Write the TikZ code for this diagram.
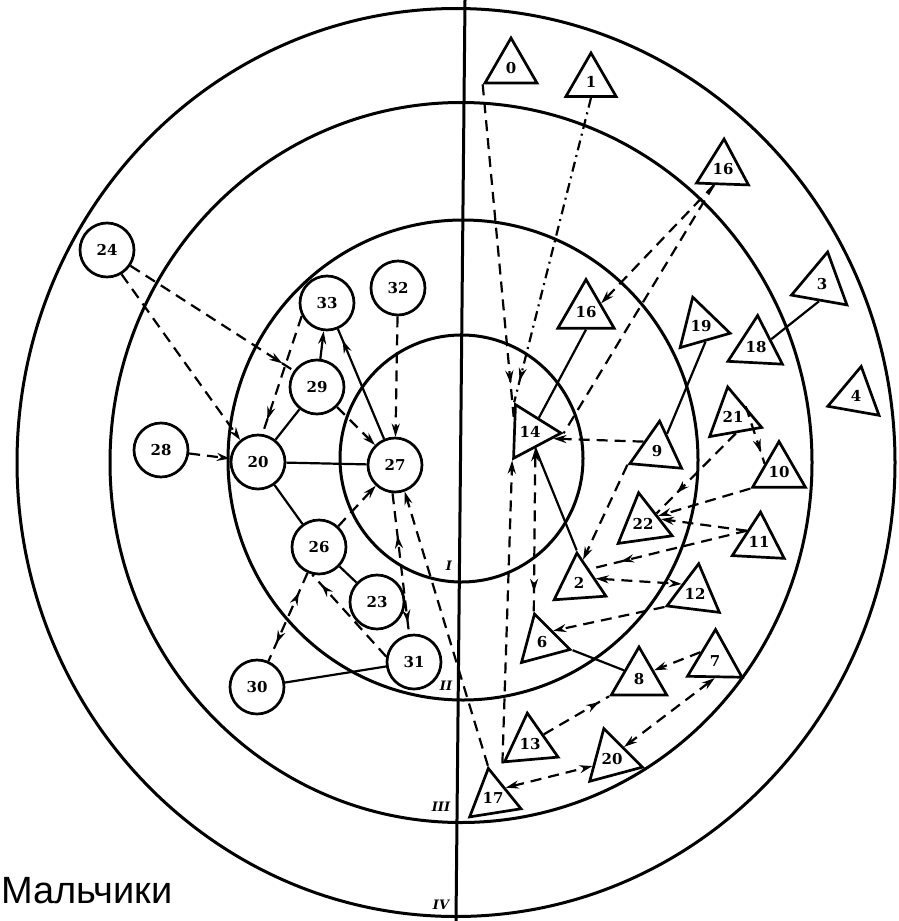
\documentclass[tikz,border=0pt]{standalone}
\usepackage{fontspec}
\setmainfont{DejaVu Serif}
\newfontfamily\capfont{Liberation Sans}
\usetikzlibrary{shapes.geometric, arrows.meta, decorations.markings, calc}
\begin{document}
\begin{tikzpicture}[x=1pt, y=-1pt,
  >={Stealth[length=13pt,width=8pt]},
  ring/.style={line width=3pt},
  lbl/.style={font=\bfseries\fontsize{15}{15}\selectfont},
  cn/.style={circle, draw, line width=2.7pt, minimum size=54pt, inner sep=0pt, lbl},
  tn/.style={regular polygon, regular polygon sides=3, draw, line width=2.7pt, minimum size=#1, inner sep=0pt, lbl},
  tn/.default=60pt,
  rn/.style={font=\bfseries\itshape\fontsize{13}{13}\selectfont, inner sep=0pt},
  sl/.style={line width=2.2pt},
  ds/.style={line width=2.2pt, dash pattern=on 11pt off 7pt},
  dd/.style={line width=2.2pt, dash pattern=on 10pt off 5pt on 2pt off 5pt},
  ar/.style={postaction={decorate, decoration={markings, mark=at position #1 with {\arrow{>}}}}},
  ra/.style={postaction={decorate, decoration={markings, mark=at position #1 with {\arrowreversed{>}}}}}
]
\useasboundingbox (0,0) rectangle (898,921);

% rings and axis
\draw[ring] (456,462.5) ellipse [x radius=439pt, y radius=454pt];
\draw[ring] (461,462.5) ellipse [x radius=351pt, y radius=360pt];
\draw[ring] (463,460) ellipse [x radius=235pt, y radius=240pt];
\draw[ring] (461.5,458.5) ellipse [x radius=121.5pt, y radius=123.5pt];
\draw[ring] (465,0) -- (456,921);

\node[rn] (rI) at (449,566) {I};
\node[rn] (rII) at (446,686) {II};
\node[rn] (rIII) at (441,807) {III};
\node[rn] (rIV) at (441,905) {IV};

% circles
\node[cn] (c24) at (107,250) {24};
\node[cn] (c33) at (327,303) {33};
\node[cn] (c32) at (398,288) {32};
\node[cn] (c29) at (317,387) {29};
\node[cn] (c28) at (161,450) {28};
\node[cn] (c20) at (258,462) {20};
\node[cn] (c27) at (395,465) {27};
\node[cn] (c26) at (319,547) {26};
\node[cn] (c23) at (377,602) {23};
\node[cn] (c31) at (414,662) {31};
\node[cn] (c30) at (257,687) {30};

% triangles
\node[tn=60pt] (t0) at (511,68) {0};
\node[tn=58pt] (t1) at (591,82) {1};
\node[tn=60pt, regular polygon rotate=-2] (t16a) at (723,169) {16};
\node[tn=65pt] (t16) at (586,312) {16};
\node[tn=60pt, regular polygon rotate=16] (t19) at (701,326) {19};
\node[tn=65pt, regular polygon rotate=-10] (t3) at (822,284) {3};
\node[tn=63pt, regular polygon rotate=-3] (t18) at (756,347) {18};
\node[tn=60pt, regular polygon rotate=-10] (t4) at (856,396) {4};
\node[tn=61pt, regular polygon rotate=10] (t21) at (733,417) {21};
\node[tn=62pt, regular polygon rotate=28] (t14) at (530,432) {14};
\node[tn=60pt, regular polygon rotate=-5] (t9) at (657,451) {9};
\node[tn=63pt, regular polygon rotate=8] (t22) at (643,524) {22};
\node[tn=61pt] (t10) at (779,472) {10};
\node[tn=60pt, regular polygon rotate=-3] (t11) at (759,542) {11};
\node[tn=60pt, regular polygon rotate=4] (t2) at (579,583) {2};
\node[tn=61pt, regular polygon rotate=-7] (t12) at (695,594) {12};
\node[tn=58pt, regular polygon rotate=15] (t6) at (542,642) {6};
\node[tn=64pt] (t8) at (639,679) {8};
\node[tn=63pt, regular polygon rotate=-1] (t7) at (715,661) {7};
\node[tn=62pt, regular polygon rotate=5] (t13) at (530,744) {13};
\node[tn=63pt, regular polygon rotate=15] (t20) at (612,759) {20};
\node[tn=60pt, regular polygon rotate=9] (t17) at (493,798) {17};

% caption
\node[anchor=base west, inner sep=0pt, font=\capfont\fontsize{38}{38}\selectfont] (cap) at (1,903) {Мальчики};

% helper points
\coordinate (s16) at ($(t16a.corner 2)!0.35!(t16a.corner 3)$);
\coordinate (b14) at ($(t14.corner 2)!0.45!(t14.corner 3)$);
\coordinate (s11) at ($(t11.corner 1)!0.45!(t11.corner 2)$);

% left side connectors
\draw[ds, ar=0.93] (c24.-34) -- (c29.145);
\draw[ds, ->] (c24.-59) -- (c20.129);
\draw[ds, ar=0.88] (c33.207) -- (c20.81);
\draw[sl, ->] (c29) -- (c33);
\draw[sl, ar=0.9] (c27) -- (c33);
\draw[ds, ->] (c32) -- (c27);
\draw[ds, ->] (c29) -- (c27);
\draw[ds, ->] (c28) -- (c20);
\draw[sl] (c20) -- (c29);
\draw[sl] (c20) -- (c27);
\draw[sl] (c20) -- (c26);
\draw[ds, ->] (c26) -- (c27);
\draw[sl] (c26) -- (c23);
\draw[ds, ra=0.22, ar=0.8] (c26) -- (c30);
\draw[ds, ar=0.88] (c31.169) -- (c26.-104);
\draw[sl] (c30) -- (c31);
\draw[ds, ra=0.3, ar=0.92] (c27.-95) -- (c31.100);
\draw[ds, ->] (t17.corner 1) -- (c27.-70);

% right side connectors
\draw[ds, ar=0.9] (t0.corner 2) -- ($(t14.corner 1)!0.25!(t14.corner 2)$);
\draw[dd, ar=0.93] (t1.side 2) -- (t14.corner 1);
\draw[ds, ->] (s16) -- (t16.side 3);
\draw[ds] (s16) -- (t14.corner 3);
\draw[sl] (t16.side 2) -- (t14.side 3);
\draw[sl] (t3.side 2) -- (t18.side 3);
\draw[sl] (t19.side 2) -- ($(t9.corner 1)!0.3!(t9.corner 3)$);
\draw[ds, ->] (t9.side 1) -- ($(t14.corner 3)!0.2!(t14.corner 2)$);
\draw[sl] (b14) -- (t2.corner 1);
\draw[ds, ra=0.12, ->] (t6.corner 1) -- (b14);
\draw[ds, ->] (t13.corner 2) -- (t14.corner 2);
\draw[ds, ->] (t9.corner 2) -- ($(t2.corner 1)!0.2!(t2.corner 3)$);
\draw[ds, ar=0.8] (s11) -- ($(t2.corner 1)!0.4!(t2.corner 3)$);
\draw[ds, <->] ($(t2.corner 1)!0.6!(t2.corner 3)$) -- (t12.side 1);
\draw[ds, ->] (t12.corner 2) -- (t6.side 3);
\draw[sl] (t6.corner 3) -- (t8.side 1);
\draw[ds, ->] (t7.side 1) -- (t8.side 3);
\draw[ds, ar=0.85] (t13.side 3) -- (t8.corner 2);
\draw[ds, <->] (t7.side 2) -- (t20.side 3);
\draw[ds, <->] (t17.side 3) -- ($(t20.corner 1)!0.7!(t20.corner 2)$);
\draw[ds, ar=0.8] (t21.side 3) -- (t10.side 1);
\draw[ds, ar=0.75] (t21.side 2) -- ($(t22.corner 1)!0.5!(t22.corner 3)$);
\draw[ds, ->] (t10.corner 2) -- ($(t22.corner 1)!0.55!(t22.corner 3)$);
\draw[ds, ->] (s11) -- ($(t22.corner 1)!0.62!(t22.corner 3)$);
\end{tikzpicture}
\end{document}
